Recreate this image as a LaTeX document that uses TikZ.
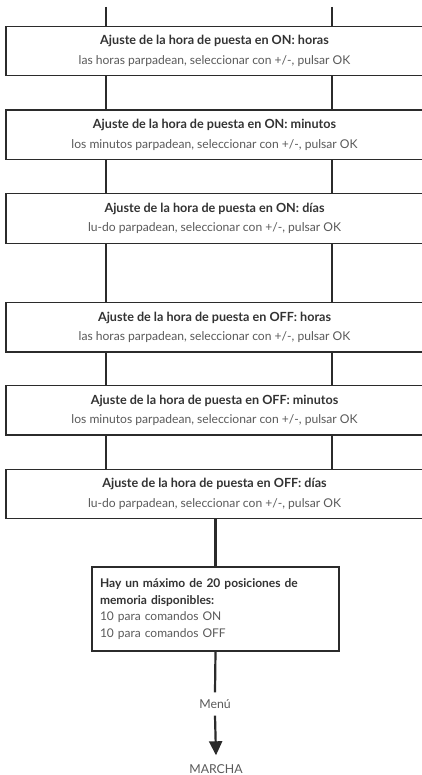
\documentclass[tikz,border=0pt]{standalone}
\usepackage{fontspec}
\setmainfont{Lato}
\usetikzlibrary{arrows.meta}
\definecolor{linec}{HTML}{2B2B2B}
\definecolor{boldc}{HTML}{333333}
\definecolor{regc}{HTML}{5A5A5A}
\tikzset{
  stepbox/.style={draw=linec, line width=1.3pt, rectangle, minimum width=417pt, minimum height=49.5pt,
    inner sep=0pt, align=center, font=\fontsize{12.1}{19.5}\selectfont},
  membox/.style={draw=linec, line width=1.3pt, rectangle, minimum width=247pt, minimum height=84pt,
    inner sep=0pt, inner xsep=8pt, align=left, text width=231pt, font=\fontsize{12}{16.7}\selectfont},
  conn/.style={draw=linec, line width=2.2pt},
  lbl/.style={inner sep=0pt, text=regc, font=\fontsize{12.3}{14}\selectfont}
}
\newcommand{\bt}[1]{{\fontsize{12.6}{19.5}\selectfont\bfseries\color{boldc}#1}}
\newcommand{\rt}[1]{{\color{regc}#1}}
\begin{document}
\begin{tikzpicture}[x=1pt,y=-1pt]
\useasboundingbox[fill=white] (0,0) rectangle (421,775);
\coordinate (tl) at (106,7);
\coordinate (tr) at (332,7);
\node[stepbox] (b1) at (214.5,51) {\bt{Ajuste de la hora de puesta en ON: horas}\\\rt{las horas parpadean, seleccionar con +/-, pulsar OK}};
\node[stepbox] (b2) at (214.5,134.75) {\bt{Ajuste de la hora de puesta en ON: minutos}\\\rt{los minutos parpadean, seleccionar con +/-, pulsar OK}};
\node[stepbox] (b3) at (214.5,218.5) {\bt{Ajuste de la hora de puesta en ON: días}\\\rt{lu-do parpadean, seleccionar con +/-, pulsar OK}};
\node[stepbox] (b4) at (214.5,327.2) {\bt{Ajuste de la hora de puesta en OFF: horas}\\\rt{las horas parpadean, seleccionar con +/-, pulsar OK}};
\node[stepbox] (b5) at (214.5,410.25) {\bt{Ajuste de la hora de puesta en OFF: minutos}\\\rt{los minutos parpadean, seleccionar con +/-, pulsar OK}};
\node[stepbox] (b6) at (214.5,494) {\bt{Ajuste de la hora de puesta en OFF: días}\\\rt{lu-do parpadean, seleccionar con +/-, pulsar OK}};
\node[membox] (mem) at (215.5,609) {{\bfseries\color{boldc}Hay un máximo de 20 posiciones de\\memoria disponibles:}\\\rt{10 para comandos ON}\\\rt{10 para comandos OFF}};
\node[lbl] (menu) at (215,704) {Menú};
\node[lbl] (marcha) at (216,769) {MARCHA};
% top stubs
\draw[conn] (tl) -- (b1.north -| tl);
\draw[conn] (tr) -- (b1.north -| tr);
\foreach \a/\b in {b1/b2,b2/b3,b3/b4,b4/b5,b5/b6}{
  \draw[conn] (\a.south -| tl) -- (\b.north -| tl);
  \draw[conn] (\a.south -| tr) -- (\b.north -| tr);
}
\draw[conn] (b6.south -| mem.north) -- (mem.north);
\draw[conn] (mem.south) -- ([yshift=7pt]menu.north);
\draw[conn, -{Triangle[length=14pt,width=13pt]}] ([yshift=-7pt]menu.south) -- ([yshift=9pt]marcha.north);
\end{tikzpicture}
\end{document}
